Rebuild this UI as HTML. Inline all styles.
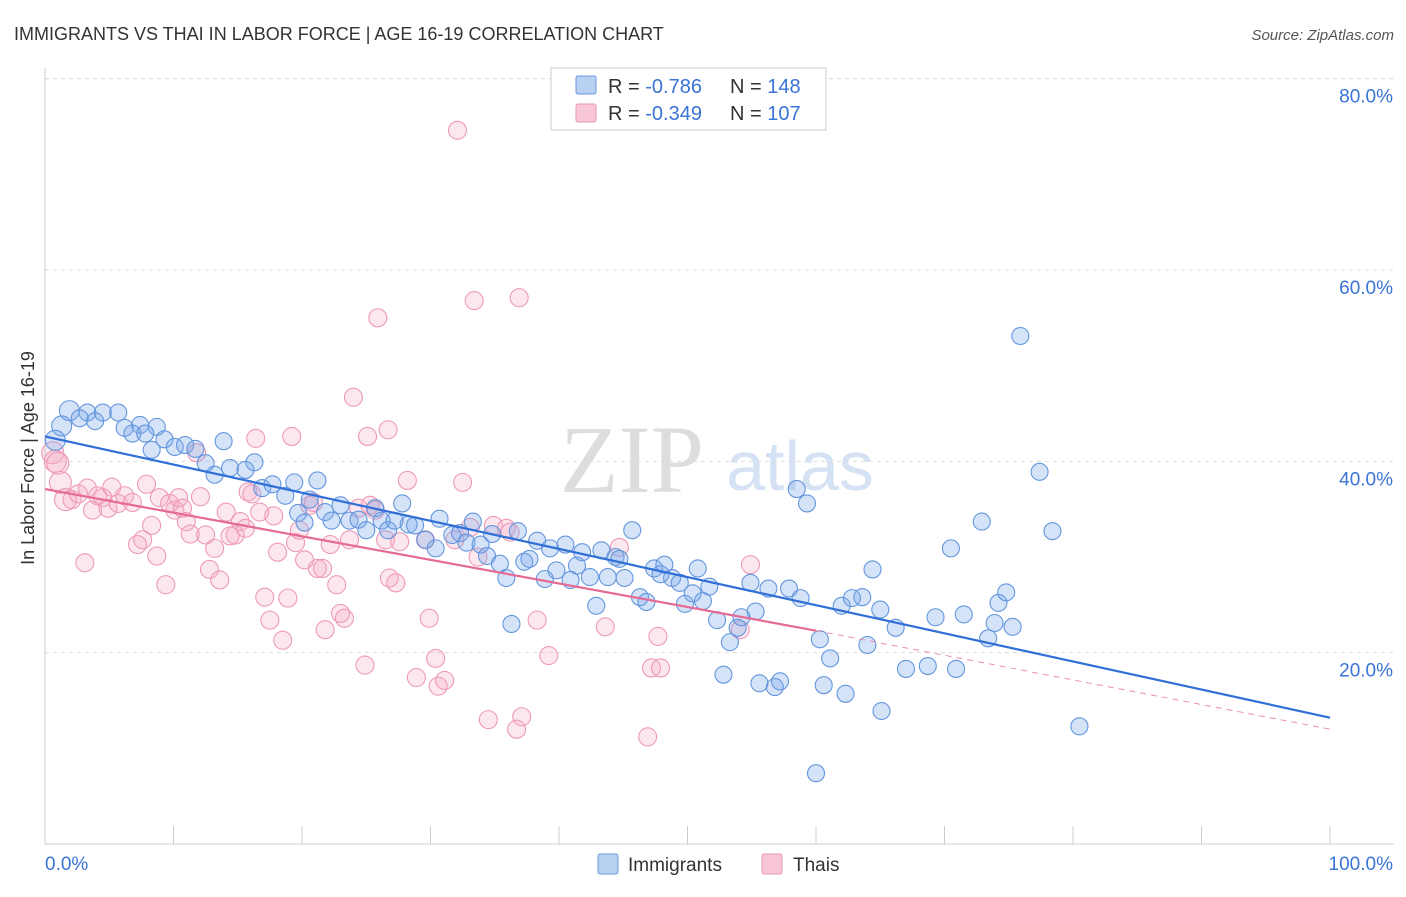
<!DOCTYPE html>
<html><head><meta charset="utf-8"><style>
body{margin:0;background:#fff;font-family:"Liberation Sans",sans-serif}
</style></head><body>
<svg width="1406" height="892" xmlns="http://www.w3.org/2000/svg" font-family="Liberation Sans, sans-serif">
<text x="14" y="40" font-size="18" fill="#333">IMMIGRANTS VS THAI IN LABOR FORCE | AGE 16-19 CORRELATION CHART</text>
<text x="1394" y="40" font-size="15" fill="#555" font-style="italic" text-anchor="end">Source: ZipAtlas.com</text>
<g>
<text x="632" y="492" font-size="96" font-family="Liberation Serif, serif" fill="#ddd" text-anchor="middle">ZIP</text>
<text x="800" y="490" font-size="70" fill="#d4e2f4" text-anchor="middle">atlas</text>
</g>
<g id="grid"></g>
<g id="axes"></g>
<g id="pts"></g>
<g id="lines"></g>
<text x="34" y="458" font-size="18" fill="#333" text-anchor="middle" transform="rotate(-90 34 458)">In Labor Force | Age 16-19</text>
<g>
<rect x="551" y="68" width="275" height="62" fill="#fff" stroke="#ccc"/>
<rect x="576" y="76" width="20" height="18" fill="#b8d0f2" stroke="#6b98dd" rx="2"/>
<rect x="576" y="104" width="20" height="18" fill="#f8c6d6" stroke="#e796b2" rx="2"/>
<text x="608" y="93" font-size="20" fill="#333">R = <tspan fill="#3a74d6">-0.786</tspan></text>
<text x="730" y="93" font-size="20" fill="#333">N = <tspan fill="#3a74d6">148</tspan></text>
<text x="608" y="120" font-size="20" fill="#333">R = <tspan fill="#3a74d6">-0.349</tspan></text>
<text x="730" y="120" font-size="20" fill="#333">N = <tspan fill="#3a74d6">107</tspan></text>
</g>
<g>
<rect x="598" y="854" width="20" height="20" fill="#b8d0f2" stroke="#6b98dd" rx="2"/>
<text x="628" y="871" font-size="19" fill="#333">Immigrants</text>
<rect x="762" y="854" width="20" height="20" fill="#f8c6d6" stroke="#e796b2" rx="2"/>
<text x="793" y="871" font-size="19" fill="#333">Thais</text>
</g>
</svg>
<script>
const yTicks=[20,40,60,80];
const yTickLabels=["20.0%","40.0%","60.0%","80.0%"];
const xTickVals=[0,10,20,30,40,50,60,70,80,90,100];
const xEndLabels=["0.0%","100.0%"];
const blueX=[1.9,3.3,4.5,5.7,2.7,3.9,1.3,0.8,6.2,7.4,8.7,6.8,7.8,9.3,8.3,10.1,10.9,11.7,13.9,12.5,13.2,14.4,15.6,16.3,16.9,17.7,18.7,19.4,19.7,20.2,20.6,21.2,21.8,22.3,23.0,23.7,24.4,25.0,25.7,26.2,26.7,27.2,27.8,28.3,28.8,29.6,30.4,30.7,31.7,32.3,32.8,33.3,33.9,34.4,34.8,35.4,35.9,36.3,36.8,37.3,37.7,38.3,38.9,39.3,39.8,40.5,40.9,41.4,41.8,42.4,42.9,43.3,43.8,44.4,44.7,45.1,45.7,46.3,46.8,47.4,47.9,48.2,48.8,49.4,49.8,50.4,50.8,51.2,51.7,52.3,52.8,53.3,53.9,54.2,54.9,55.3,55.6,56.3,56.8,57.2,57.9,58.5,58.8,59.3,60.3,60.6,61.1,62.0,62.3,62.8,63.6,64.0,64.4,65.0,65.1,66.2,67.0,68.7,69.3,70.5,70.9,71.5,72.9,73.4,73.9,74.2,74.8,75.3,75.9,77.4,78.4,80.5,60.0];
const blueY=[45.3,45.1,45.1,45.1,44.5,44.2,43.7,42.2,43.5,43.8,43.6,42.9,42.9,42.3,41.2,41.5,41.7,41.3,42.1,39.8,38.6,39.3,39.1,39.9,37.2,37.6,36.4,37.8,34.6,33.6,36.0,38.0,34.7,33.8,35.4,33.8,33.9,32.8,35.1,33.8,32.8,33.8,35.6,33.4,33.3,31.8,30.9,34.0,32.3,32.5,31.5,33.7,31.3,30.1,32.4,29.3,27.8,23.0,32.7,29.5,29.8,31.7,27.7,30.9,28.6,31.3,27.6,29.1,30.5,27.9,24.9,30.7,27.9,30.0,29.8,27.8,32.8,25.8,25.3,28.8,28.2,29.2,27.8,27.3,25.1,26.2,28.8,25.4,26.9,23.4,17.7,21.1,22.6,23.7,27.3,24.3,16.8,26.7,16.4,17.0,26.7,37.1,25.7,35.6,21.4,16.6,19.4,24.9,15.7,25.7,25.8,20.8,28.7,24.5,13.9,22.6,18.3,18.6,23.7,30.9,18.3,24.0,33.7,21.5,23.1,25.2,26.3,22.7,53.1,38.9,32.7,12.3,7.4];
const pinkX=[0.6,0.8,1.0,1.2,1.6,2.1,2.6,3.1,3.3,3.7,4.1,4.5,4.9,5.2,5.7,6.2,6.8,7.2,7.6,7.9,8.3,8.7,8.9,9.4,9.7,10.1,10.4,10.7,11.0,11.3,11.8,12.1,12.5,12.8,13.2,13.6,14.1,14.4,14.8,15.2,15.6,15.8,16.1,16.4,16.7,17.1,17.5,17.8,18.1,18.5,18.9,19.2,19.5,19.8,20.2,20.6,20.9,21.2,21.6,21.8,22.2,22.7,23.0,23.3,23.7,24.0,24.4,24.9,25.1,25.3,25.7,25.9,26.5,26.7,26.8,27.3,27.6,28.2,28.9,29.6,29.9,30.4,30.6,31.1,31.9,32.1,32.5,33.1,33.4,33.7,34.5,34.9,35.9,36.2,36.7,36.9,37.1,38.3,39.2,43.6,44.7,46.9,47.2,47.7,47.9,54.1,54.9];
const pinkY=[40.9,40.0,39.8,37.8,36.0,36.0,36.6,29.4,37.2,34.9,36.4,36.2,35.1,37.3,35.6,36.4,35.7,31.3,31.8,37.6,33.3,30.1,36.2,27.1,35.6,34.9,36.2,35.1,33.7,32.4,40.9,36.3,32.3,28.7,30.9,27.6,34.7,32.2,32.3,33.7,33.0,36.8,36.6,42.4,34.7,25.8,23.4,34.3,30.5,21.3,25.7,42.6,31.5,32.8,29.7,35.4,35.7,28.8,28.8,22.4,31.3,27.1,24.1,23.6,31.8,46.7,35.1,18.7,42.6,35.4,34.9,55.0,31.8,43.3,27.8,27.3,31.6,38.0,17.4,31.8,23.6,19.4,16.5,17.1,31.8,74.6,37.8,33.1,56.8,30.0,13.0,33.3,33.0,32.6,12.0,57.1,13.3,23.4,19.7,22.7,31.0,11.2,18.4,21.7,18.4,22.4,29.2];
const blueTrend=[42.6,13.2];
const pinkTrend=[37.1,22.3,12.0];
const pinkSolidEnd=60;
const NS="http://www.w3.org/2000/svg";
const X0=45,X1=1330,YB=844,YK=9.567;
const sx=v=>X0+(X1-X0)*v/100;
const sy=v=>YB-v*YK;
function mk(tag,attrs,parent){const e=document.createElementNS(NS,tag);for(const k in attrs)e.setAttribute(k,attrs[k]);parent.appendChild(e);return e;}
const grid=document.getElementById('grid'),axes=document.getElementById('axes'),pts=document.getElementById('pts'),lines=document.getElementById('lines');
mk('line',{x1:45,y1:sy(80),x2:1394,y2:sy(80),stroke:'#ddd','stroke-dasharray':'4,4'},grid);
yTicks.forEach((t,i)=>{
 const l=mk('line',{x1:45,y1:sy(t),x2:1394,y2:sy(t),stroke:'#ddd','stroke-dasharray':'4,4'},grid);
 
 
 const tx=mk('text',{x:1393,y:sy(t)+24,'font-size':19,fill:'#3a74d6','text-anchor':'end'},axes);
 tx.textContent=yTickLabels[i];
 
 
});
mk('line',{x1:45,y1:68,x2:45,y2:YB,stroke:'#ccc'},axes);
mk('line',{x1:45,y1:YB,x2:1394,y2:YB,stroke:'#ccc'},axes);
xTickVals.forEach(v=>{
 const l=mk('line',{x1:sx(v),y1:YB,x2:sx(v),y2:YB-18,stroke:'#ccc'},axes);
 
 
});
const xl=mk('text',{x:45,y:870,'font-size':19,fill:'#3a74d6'},axes);xl.textContent=xEndLabels[0];


const xr=mk('text',{x:1393,y:870,'font-size':19,fill:'#3a74d6','text-anchor':'end'},axes);xr.textContent=xEndLabels[1];


pinkX.forEach((x,i)=>{
 const c=mk('circle',{cx:sx(x),cy:sy(pinkY[i]),r:x<2?11:9,fill:'rgba(244,170,196,0.28)',stroke:'#ee9ab6','stroke-width':1.1},pts);
 
 
});
blueX.forEach((x,i)=>{
 const c=mk('circle',{cx:sx(x),cy:sy(blueY[i]),r:x<2?10:8.5,fill:'rgba(120,168,232,0.32)',stroke:'#6496de','stroke-width':1.1},pts);
 
 
});
const bl=mk('line',{x1:sx(0),y1:sy(blueTrend[0]),x2:sx(100),y2:sy(blueTrend[1]),stroke:'#2f6fd6','stroke-width':2.2},lines);


const pl=mk('line',{x1:sx(0),y1:sy(pinkTrend[0]),x2:sx(pinkSolidEnd),y2:sy(pinkTrend[1]),stroke:'#e56a94','stroke-width':2.2},lines);


const pd=mk('line',{x1:sx(pinkSolidEnd),y1:sy(pinkTrend[1]),x2:sx(100),y2:sy(pinkTrend[2]),stroke:'#e990ae','stroke-width':1,'stroke-dasharray':'6,5'},lines);


</script>
</body></html>
